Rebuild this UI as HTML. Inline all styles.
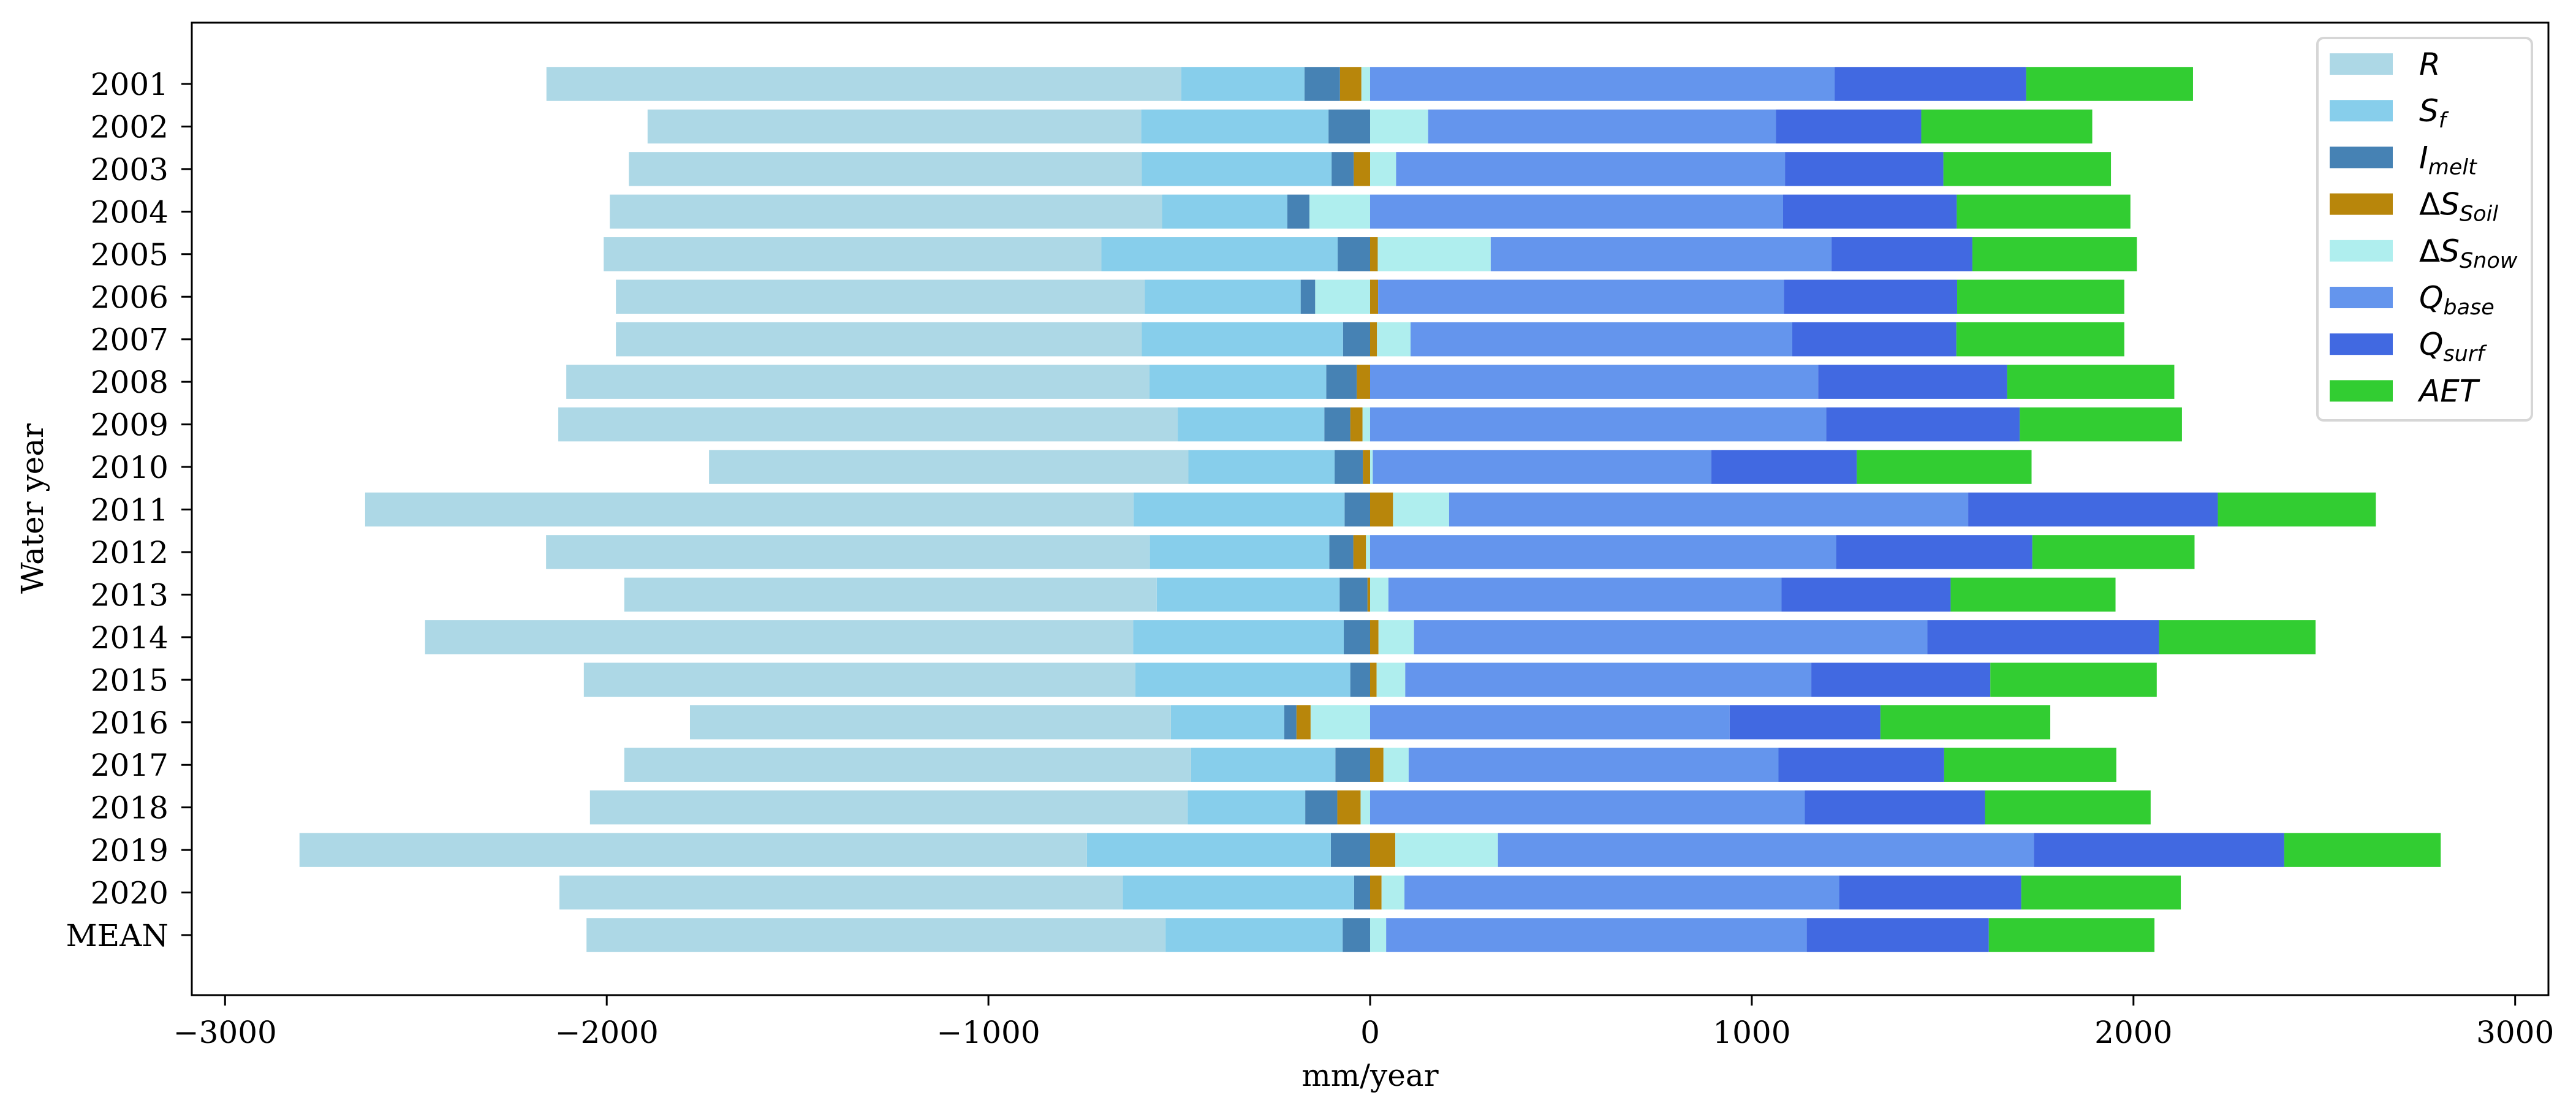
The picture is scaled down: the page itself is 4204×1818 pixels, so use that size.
<!DOCTYPE html>
<html><head><meta charset="utf-8"><style>
html,body{margin:0;padding:0;background:#fff}
svg{display:block}
</style></head><body>
<svg id="chart" xmlns="http://www.w3.org/2000/svg" width="4204" height="1818" viewBox="0 0 4204 1818">
<rect x="0" y="0" width="4204" height="1818" fill="#fff"/>
<g id="bars"></g>
<g id="axes"></g>
<g id="legend"></g>
</svg>
<script>
const categories = ["2001","2002","2003","2004","2005","2006","2007","2008","2009","2010","2011","2012","2013","2014","2015","2016","2017","2018","2019","2020","MEAN"];
const R     = [1663,1293,1344,1447,1304,1386,1378,1528,1623,1256,2013,1582,1395,1855,1445,1260,1485,1566,2063,1476,1517];
const Sf    = [323,491,497,328,619,408,527,463,384,383,553,470,479,552,563,297,378,308,639,606,464];
const Imelt = [93,109,58,58,85,38,71,80,68,74,67,63,73,69,52,32,91,84,103,42,72];
const dSoil = [-56,0,-43,0,20,21,18,-35,-32,-19,60,-33,-7,22,17,-37,35,-61,66,30,0];
const dSnow = [-23,152,68,-159,296,-144,88,0,-20,7,147,-11,48,93,75,-156,66,-25,269,60,42];
const Qbase = [1217,911,1019,1082,893,1063,1000,1174,1195,887,1360,1221,1030,1345,1064,942,969,1139,1404,1139,1102];
const Qsurf = [502,381,415,455,369,454,430,495,507,381,654,514,443,607,469,395,434,472,656,477,477];
const AET   = [437,448,439,455,431,438,440,438,425,458,414,425,432,410,436,445,451,434,410,418,434];
const xTicks = [-3000,-2000,-1000,0,1000,2000,3000];
const xTickLabels = ["\u22123000","\u22122000","\u22121000","0","1000","2000","3000"];

const NS="http://www.w3.org/2000/svg";
const AX={l:313,r:4159,t:37,b:1624};
function xs(v){return 2236+v*0.6229;}
function ys(i){return 137+i*69.45;}
const BH=55.5;
const COL={R:"#add8e6",Sf:"#87ceeb",Imelt:"#4682b4",dSoil:"#b8860b",dSnow:"#afeeee",Qbase:"#6495ed",Qsurf:"#4169e1",AET:"#32cd32"};
function mk(tag,attrs,parent){const e=document.createElementNS(NS,tag);for(const k in attrs)e.setAttribute(k,attrs[k]);parent.appendChild(e);return e;}
const bars=document.getElementById('bars');
categories.forEach((c,i)=>{
  const yc=ys(i);
  const neg=[["dSnow",Math.min(dSnow[i],0)],["dSoil",Math.min(dSoil[i],0)],["Imelt",-Imelt[i]],["Sf",-Sf[i]],["R",-R[i]]];
  const pos=[["dSoil",Math.max(dSoil[i],0)],["dSnow",Math.max(dSnow[i],0)],["Qbase",Qbase[i]],["Qsurf",Qsurf[i]],["AET",AET[i]]];
  let acc=0;
  neg.forEach(([k,v])=>{
    if(v===0)return;
    const x0=xs(acc+v),x1=xs(acc);
    const r=mk('rect',{x:x0,y:yc-BH/2,width:x1-x0,height:BH,fill:COL[k]},bars);
    
    
    acc+=v;
  });
  acc=0;
  pos.forEach(([k,v])=>{
    if(v===0)return;
    const x0=xs(acc),x1=xs(acc+v);
    const r=mk('rect',{x:x0,y:yc-BH/2,width:x1-x0,height:BH,fill:COL[k]},bars);
    
    
    acc+=v;
  });
});
const axes=document.getElementById('axes');
const frame=mk('rect',{x:AX.l,y:AX.t,width:AX.r-AX.l,height:AX.b-AX.t,fill:"none",stroke:"#000","stroke-width":3},axes);


categories.forEach((c,i)=>{
  const y=ys(i);
  const t=mk('line',{x1:AX.l-17,x2:AX.l,y1:y,y2:y,stroke:"#000","stroke-width":3},axes);
  
  
  const tx=mk('text',{x:AX.l-38,y:y+18,"text-anchor":"end","font-family":"DejaVu Serif, Liberation Serif, serif","font-size":50},axes);
  tx.textContent=c;
  
  
});
xTicks.forEach((v,i)=>{
  const x=xs(v);
  const t=mk('line',{x1:x,x2:x,y1:AX.b,y2:AX.b+17,stroke:"#000","stroke-width":3},axes);
  
  
  const tx=mk('text',{x:x,y:1702,"text-anchor":"middle","font-family":"DejaVu Serif, Liberation Serif, serif","font-size":50},axes);
  tx.textContent=xTickLabels[i];
  
  
});
const xl=mk('text',{x:(AX.l+AX.r)/2,y:1772,"text-anchor":"middle","font-family":"DejaVu Serif, Liberation Serif, serif","font-size":50},axes);
xl.textContent="mm/year";


const yl=mk('text',{x:0,y:0,"text-anchor":"middle","font-family":"DejaVu Serif, Liberation Serif, serif","font-size":50,transform:"translate(70,830) rotate(-90)"},axes);
yl.textContent="Water year";



const legend=document.getElementById('legend');
const lb=mk('rect',{x:3782,y:62,width:350,height:624,rx:10,fill:"#fff",stroke:"#d6d6d6","stroke-width":4},legend);


const legendKeys=["R","Sf","Imelt","dSoil","dSnow","Qbase","Qsurf","AET"];
const legendMain=["R","S","I","S","S","Q","Q","AET"];
const legendDelta=[false,false,false,true,true,false,false,false];
const legendSub=["","f","melt","Soil","Snow","base","surf",""];
legendKeys.forEach((k,i)=>{
  const y=87+i*76.2;
  const s=mk('rect',{x:3802,y:y,width:103,height:35,fill:COL[k]},legend);
  
  
  const t=mk('text',{x:3948,y:y+35,"font-family":"DejaVu Sans, Liberation Sans, sans-serif","font-size":50,"font-style":"italic"},legend);
  
  
  if(legendDelta[i]){
    const d=document.createElementNS(NS,'tspan');
    d.setAttribute('font-style','normal');
    d.textContent="\u0394";t.appendChild(d);
  }
  const m=document.createElementNS(NS,'tspan');m.textContent=legendMain[i];
  t.appendChild(m);
  if(legendSub[i]){
    const sb=document.createElementNS(NS,'tspan');
    sb.setAttribute('font-size','35');sb.setAttribute('dy','10');
    sb.textContent=legendSub[i];t.appendChild(sb);
  }
});
</script>
</body></html>
